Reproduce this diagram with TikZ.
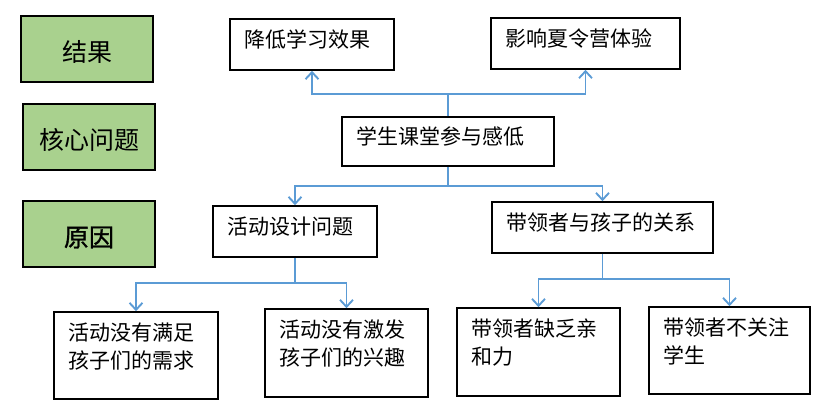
\documentclass[tikz,border=0pt]{standalone}
\usepackage{fontspec}
\newfontfamily\cjk{Noto Sans CJK SC}
\newfontfamily\cjkheavy[FakeBold=1.2]{Noto Sans CJK SC}
\usetikzlibrary{arrows.meta}
\definecolor{linkblue}{RGB}{91,155,213}
\definecolor{tagGreen}{RGB}{169,209,142}

\begin{document}
\begin{tikzpicture}[x=1pt, y=-1pt,
		tag/.style={rectangle, draw=black, line width=1.6pt, fill=tagGreen, minimum width=132pt, minimum height=66pt, text height=25pt, text depth=0pt, font=\cjk\fontsize{25pt}{30pt}\selectfont},
		box/.style={rectangle, draw=black, line width=1.6pt, fill=white, align=left, inner xsep=14pt, text height=15pt, text depth=10pt, font=\cjk\fontsize{21pt}{28pt}\selectfont},
		twobox/.style={box, text depth=46pt},
		link/.style={draw=linkblue, line width=1.9pt, -{Straight Barb[length=7pt,width=13pt]}}]
		\useasboundingbox (0, 0) rectangle (819, 402);
		\node[tag] (tagres) at (87, 49) {结果};
		\node[tag] (tagcore) at (89, 137) {核心问题};
		\node[tag] (tagcause) at (89, 234) {\cjkheavy 原因};
		\node[box, minimum width=164pt, minimum height=51pt, text width=136pt] (res1) at (312, 44.5) {降低学习效果};
		\node[box, minimum width=189pt, minimum height=51pt, text width=161pt] (res2) at (585.5, 43.5) {影响夏令营体验};
		\node[box, minimum width=212pt, minimum height=49pt, text width=184pt] (core) at (448, 141.5) {学生课堂参与感低};
		\node[box, minimum width=164pt, minimum height=51pt, text width=136pt] (cause1) at (295, 231.5) {活动设计问题};
		\node[box, minimum width=221pt, minimum height=51pt, text width=193pt] (cause2) at (602.5, 227.5) {带领者与孩子的关系};
		\node[twobox, minimum width=164pt, minimum height=87pt, text width=136pt] (leaf1) at (136, 355.5) {活动没有满足\\孩子们的需求};
		\node[twobox, minimum width=163pt, minimum height=88pt, text width=135pt] (leaf2) at (346.5, 353) {活动没有激发\\孩子们的兴趣};
		\node[twobox, minimum width=163pt, minimum height=88pt, text width=135pt] (leaf3) at (538.5, 352) {带领者缺乏亲\\和力};
		\node[twobox, minimum width=161pt, minimum height=87pt, text width=133pt] (leaf4) at (729.5, 350.5) {带领者不关注\\学生};
		\coordinate (upbus) at (448, 94);
		\coordinate (downbus) at (448, 186);
		\coordinate (actbus) at (295, 283);
		\coordinate (relbus) at (602.5, 279);
		\draw[link] (core.north) -- (core.north |- upbus) -| (res1.south);
		\draw[link] (core.north |- upbus) -| (res2.south);
		\draw[link] (core.south) -- (core.south |- downbus) -| (cause1.north);
		\draw[link] (core.south |- downbus) -| (cause2.north);
		\draw[link] (cause1.south) -- (cause1.south |- actbus) -| (leaf1.north);
		\draw[link] (cause1.south |- actbus) -| (leaf2.north);
		\draw[link] (cause2.south) -- (cause2.south |- relbus) -| (leaf3.north);
		\draw[link] (cause2.south |- relbus) -| (leaf4.north);
	\end{tikzpicture}
\end{document}
